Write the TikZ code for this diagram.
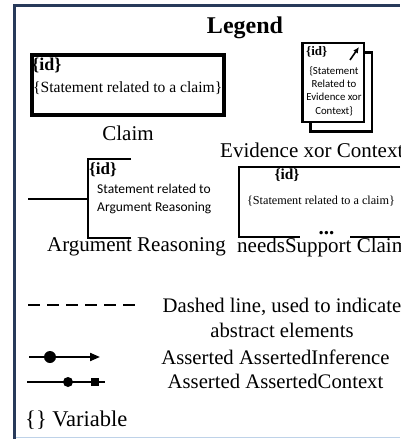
\documentclass[tikz,border=0pt]{standalone}
\usepackage{fontspec}
\setmainfont{Liberation Serif}
\newfontfamily\sansfont{Carlito}
\usetikzlibrary{arrows.meta}
\definecolor{framenavy}{RGB}{40,58,90}
\definecolor{framelight}{RGB}{190,210,232}
\tikzset{
  caption/.style={inner sep=0pt, font=\fontsize{21}{25}\selectfont},
  legendtext/.style={inner sep=0pt, align=center, font=\fontsize{20.7}{25}\selectfont},
  idlabel/.style={inner sep=0pt, font=\bfseries\fontsize{#1}{#1}\selectfont},
  framebox/.style={draw, rectangle, inner sep=0pt, fill=white},
  bracketline/.style={line width=2.2pt},
  dotmark/.style={circle, fill, inner sep=0pt, minimum size=#1},
  squaremark/.style={rectangle, fill, inner sep=0pt, minimum size=#1},
}
\begin{document}
\begin{tikzpicture}[x=1pt,y=-1pt]
\useasboundingbox (0,0) rectangle (400,439);

% outer frame
\draw[framenavy, line width=3pt] (14.5,439) -- (14.5,5.5) -- (400,5.5);
\draw[framelight, line width=1.5pt] (16,437.5) -- (400,437.5);

% title
\node[inner sep=0pt, font=\bfseries\fontsize{24}{24}\selectfont] (title) at (245,28) {Legend};

% Claim
\node[framebox, line width=3.5pt, minimum width=192pt, minimum height=60pt] (claim) at (128,85) {};
\node[idlabel=18, anchor=west] (claimid) at (32,65) {\{id\}};
\node[inner sep=0pt, anchor=west, font=\fontsize{15.6}{18}\selectfont] (claimtxt) at (33,88) {\{Statement related to a claim\}};
\node[caption] (claimcap) at (128,133) {Claim};

% Evidence xor Context (stacked pair)
\node[framebox, line width=2.5pt, minimum width=61.5pt, minimum height=79pt] (evback) at (341,92) {};
\node[framebox, line width=2.5pt, minimum width=61.5pt, minimum height=79pt] (evfront) at (333,82.5) {};
\node[idlabel=13, anchor=west] (evid) at (306,52) {\{id\}};
\coordinate (evtail) at (350,60);
\coordinate (evtip) at (359,47);
\draw[line width=1.6pt, -{Latex[length=6pt,width=5.5pt]}] (evtail) -- (evtip);
\node[inner sep=0pt, align=center, font=\sansfont\fontsize{10.8}{13.3}\selectfont] (evtxt) at (334,91)
  {\{Statement\\Related to\\Evidence xor\\Context\}};
\node[caption, anchor=west] (evcap) at (220,150) {Evidence xor Context};

% Argument Reasoning
\coordinate (arin) at (28,199);
\coordinate (arjoin) at (88,199);
\coordinate (artop) at (88,159);
\coordinate (arbot) at (88,238);
\coordinate (artopend) at (131,159);
\coordinate (arbotend) at (131,238);
\draw[bracketline] (arin) -- (arjoin);
\draw[bracketline] (artopend) -- (artop) -- (arbot) -- (arbotend);
\node[idlabel=17, anchor=west] (arid) at (89,170) {\{id\}};
\node[inner sep=0pt, anchor=west, align=left, font=\sansfont\fontsize{13.5}{18}\selectfont] (artxt) at (97,199)
  {Statement related to\\Argument Reasoning};
\node[caption, anchor=west] (arcap) at (47,247) {Argument Reasoning};

% needsSupport Claim
\coordinate (nstopend) at (400,167);
\coordinate (nstl) at (239,167);
\coordinate (nsbl) at (239,237);
\coordinate (nsgap) at (300,237);
\coordinate (nsresume) at (350,237);
\coordinate (nsbotend) at (400,237);
\draw[line width=2pt] (nstopend) -- (nstl) -- (nsbl) -- (nsgap);
\draw[line width=2pt] (nsresume) -- (nsbotend);
\node[inner sep=0pt, font=\bfseries\fontsize{21}{21}\selectfont] (nsdots) at (326.5,233) {...};
\node[idlabel=15.4] (nsid) at (287,175) {\{id\}};
\node[inner sep=0pt, font=\fontsize{12.2}{14}\selectfont] (nstxt) at (321,201) {\{Statement related to a claim\}};
\node[caption, anchor=west] (nscap) at (237,247) {needsSupport Claim};

% dashed line
\coordinate (dashstart) at (28,305);
\coordinate (dashend) at (135,305);
\draw[line width=2.5pt, dash pattern=on 12pt off 7pt] (dashstart) -- (dashend);
\node[legendtext] (dashtxt) at (282,317.5) {Dashed line, used to indicate\\abstract elements};

% AssertedInference
\coordinate (infstart) at (29,357);
\coordinate (infend) at (100,357);
\draw[line width=2pt, -{Triangle[length=10pt,width=8pt]}] (infstart) -- (infend);
\node[dotmark=12pt] (infdot) at (50,357) {};
\node[legendtext] (inftxt) at (275.5,357) {Asserted AssertedInference};

% AssertedContext
\coordinate (ctxstart) at (27,382);
\coordinate (ctxend) at (105,382);
\draw[line width=1.8pt] (ctxstart) -- (ctxend);
\node[dotmark=10pt] (ctxdot) at (68,382) {};
\node[squaremark=8.5pt] (ctxsq) at (95,382) {};
\node[legendtext] (ctxtxt) at (275.5,381) {Asserted AssertedContext};

% variable notation
\node[inner sep=0pt, anchor=west, font=\fontsize{22.5}{25}\selectfont] (vartxt) at (25,420) {\{\} Variable};
\end{tikzpicture}
\end{document}
